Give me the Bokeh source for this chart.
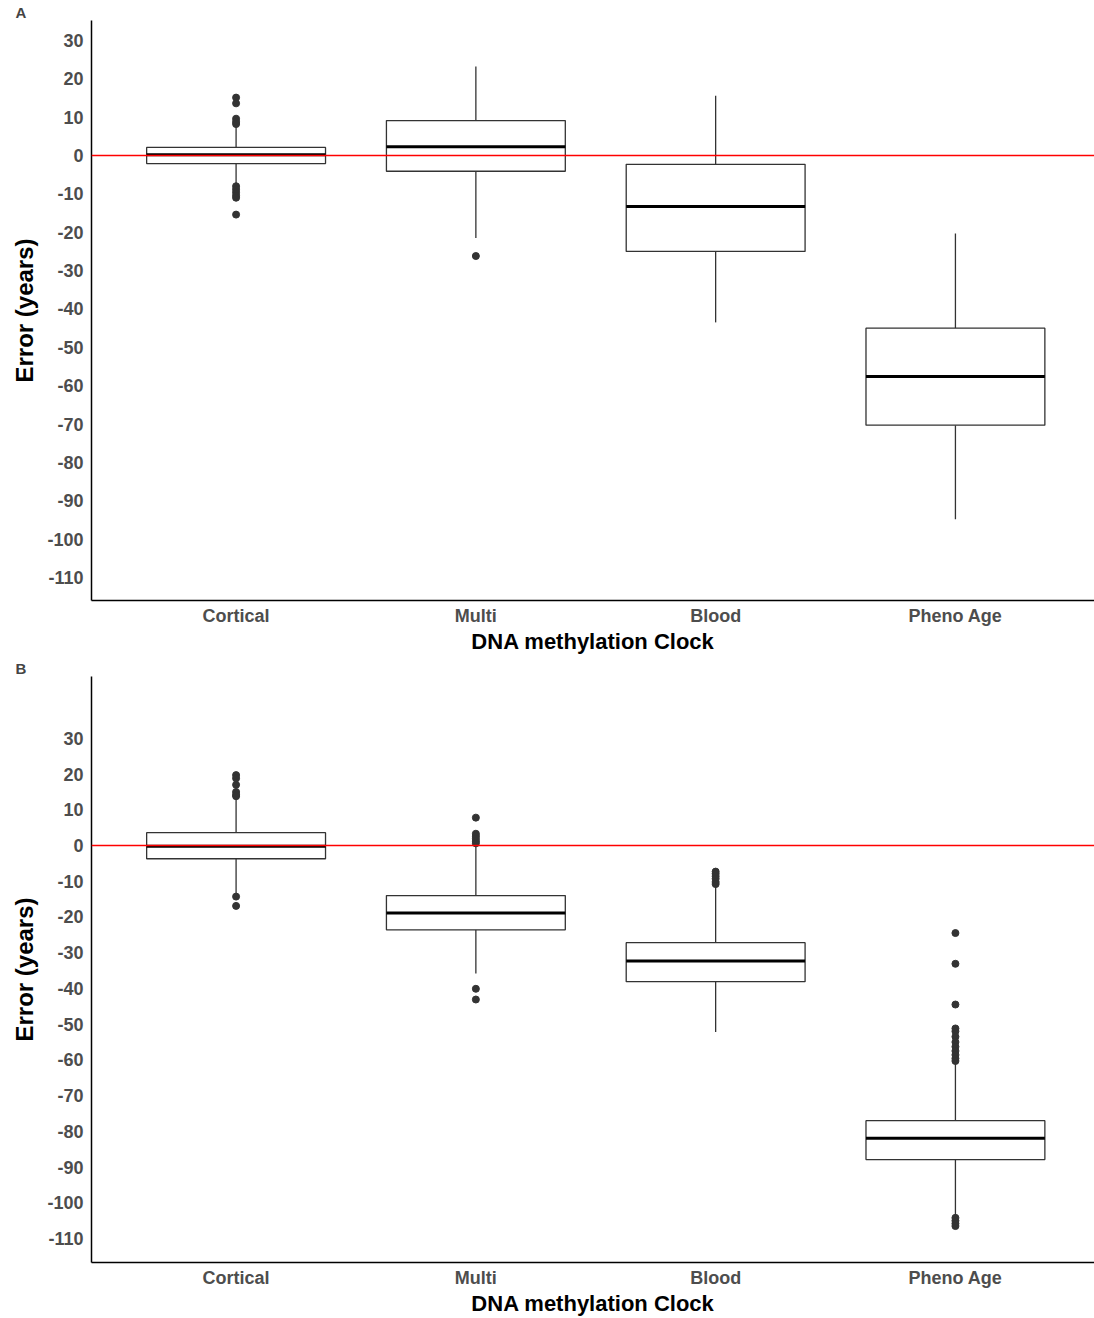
from bokeh.plotting import figure
from bokeh.layouts import column
from bokeh.models import FixedTicker, Span
from bokeh.embed import file_html
from bokeh.resources import INLINE

categories = ["Cortical", "Multi", "Blood", "Pheno Age"]
y_ticks = [-110, -100, -90, -80, -70, -60, -50, -40, -30, -20, -10, 0, 10, 20, 30]

# Panel A
A_q1 = [-2.1, -4.1, -25.0, -70.3]
A_med = [0.2, 2.3, -13.3, -57.6]
A_q3 = [2.1, 9.1, -2.3, -45.0]
A_lo = [-7.3, -21.5, -43.5, -94.8]
A_hi = [7.8, 23.2, 15.6, -20.3]
A_out_cortical = [15.1, 13.6, 9.6, 8.8, 8.2, -8.0, -8.8, -9.6, -10.4, -11.0, -15.4]
A_out_multi = [-26.2]
A_out_blood = []
A_out_pheno = []

# Panel B
B_q1 = [-3.7, -23.6, -38.1, -87.9]
B_med = [-0.2, -18.9, -32.3, -81.9]
B_q3 = [3.6, -14.0, -27.2, -77.0]
B_lo = [-13.5, -35.8, -52.2, -104.0]
B_hi = [13.4, 0.0, -11.2, -60.4]
B_out_cortical = [19.7, 18.8, 17.0, 15.0, 14.2, 13.8, -14.3, -16.9]
B_out_multi = [7.8, 3.3, 2.6, 1.9, 1.2, 0.6, -40.1, -43.1]
B_out_blood = [-7.3, -7.9, -8.6, -9.3, -10.2, -10.8]
B_out_pheno = [-24.5, -33.1, -44.5, -51.2, -52.0, -53.5, -55.0, -56.3, -57.5,
               -58.6, -59.6, -60.3, -104.2, -105.0, -105.8, -106.5]

FONT = "Liberation Sans"


def make_panel(tag, q1, med, q3, lo, hi, outs, y_range, height):
    xs = [1, 2, 3, 4]
    p = figure(width=1094, height=height, x_range=(0.397, 4.58), y_range=y_range,
               output_backend="svg", toolbar_location=None,
               min_border_left=91, min_border_top=20, min_border_right=0,
               min_border_bottom=54)
    p.outline_line_color = None
    p.xgrid.visible = False
    p.ygrid.visible = False
    p.background_fill_color = "white"

    p.title.text = tag
    p.title.align = "left"
    p.title.offset = -76
    p.title.standoff = 0
    p.title.text_font = FONT
    p.title.text_font_style = "bold"
    p.title.text_font_size = "15px"
    p.title.text_line_height = 0.9

    p.add_layout(Span(location=0, dimension="width", line_color="#ff0000", line_width=1.5))

    bw = 0.746
    p.segment(x0=xs, y0=q3, x1=xs, y1=hi, line_color="#333333", line_width=1.3)
    p.segment(x0=xs, y0=q1, x1=xs, y1=lo, line_color="#333333", line_width=1.3)
    p.vbar(x=xs, width=bw, top=q3, bottom=q1, fill_color="white",
           line_color="#333333", line_width=1.3)
    p.segment(x0=[x - bw / 2 for x in xs], y0=med, x1=[x + bw / 2 for x in xs], y1=med,
              line_color="black", line_width=3)
    ox, oy = [], []
    for i, o in enumerate(outs):
        ox += [xs[i]] * len(o)
        oy += o
    p.scatter(x=ox, y=oy, size=7, fill_color="#333333", line_color="#333333")

    p.xaxis.ticker = FixedTicker(ticks=xs)
    p.xaxis.major_label_overrides = {x: c for x, c in zip(xs, categories)}
    p.yaxis.ticker = FixedTicker(ticks=y_ticks)
    p.yaxis.major_label_overrides = {t: str(t) for t in y_ticks}
    for ax in (p.xaxis, p.yaxis):
        ax.major_tick_line_color = None
        ax.minor_tick_line_color = None
        ax.major_tick_out = 0
        ax.major_tick_in = 0
        ax.minor_tick_out = 0
        ax.minor_tick_in = 0
        ax.axis_line_color = "black"
        ax.axis_line_width = 1.5
        ax.major_label_text_font = FONT
        ax.major_label_text_font_style = "bold"
        ax.major_label_text_font_size = "18px"
        ax.major_label_text_color = "#4d4d4d"
        ax.axis_label_text_font = FONT
        ax.axis_label_text_font_style = "bold"
        ax.axis_label_text_color = "black"
    p.xaxis.axis_label_text_font_size = "22px"
    p.yaxis.axis_label_text_font_size = "24px"
    p.xaxis.axis_label = "DNA methylation Clock"
    p.yaxis.axis_label = "Error (years)"
    p.xaxis.major_label_standoff = 5
    p.xaxis.axis_label_standoff = 0
    p.yaxis.major_label_standoff = 8
    p.yaxis.axis_label_standoff = 6
    return p


pa = make_panel("A", A_q1, A_med, A_q3, A_lo, A_hi,
                [A_out_cortical, A_out_multi, A_out_blood, A_out_pheno],
                (-116.0, 35.2), 656)
pb = make_panel("B", B_q1, B_med, B_q3, B_lo, B_hi,
                [B_out_cortical, B_out_multi, B_out_blood, B_out_pheno],
                (-116.7, 47.3), 662)

layout = column(pa, pb, spacing=0)
open("out.html", "w").write(file_html(layout, INLINE))
